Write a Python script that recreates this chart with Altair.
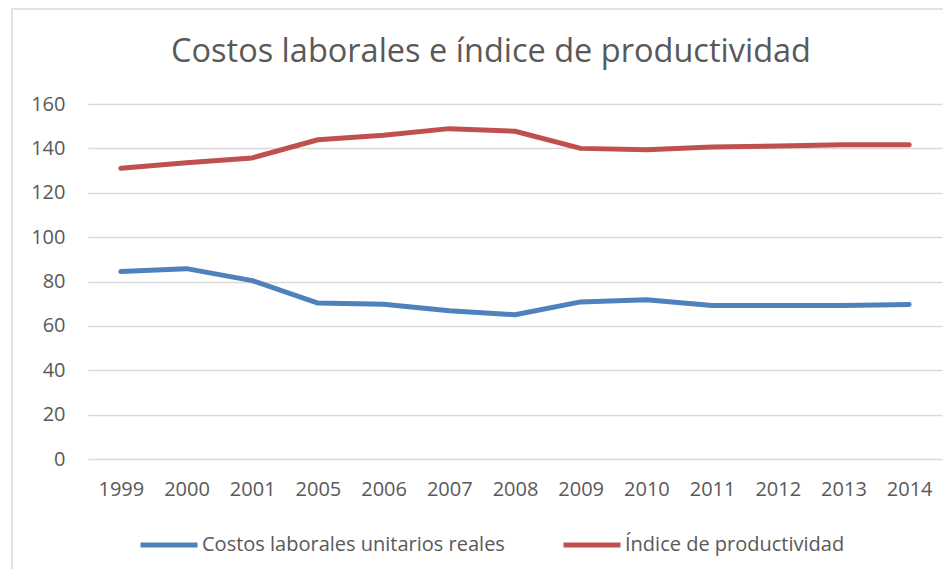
import altair as alt
import pandas as pd

years = ["1999", "2000", "2001", "2005", "2006", "2007", "2008",
         "2009", "2010", "2011", "2012", "2013", "2014"]
costos = [84.5, 85.8, 80.4, 70.3, 69.7, 66.8, 65.0, 70.8, 71.8, 69.2, 69.2, 69.2, 69.6]
productividad = [131.0, 133.5, 135.7, 143.9, 145.9, 148.9, 147.7, 140.0, 139.4, 140.6, 141.1, 141.6, 141.6]
series_names = ["Costos laborales unitarios reales", "Índice de productividad"]
series_colors = ["#4F81BD", "#C0504D"]
title_text = ["Costos laborales e índice de productividad"]

rows = []
for i, y in enumerate(years):
    rows.append({"year": y, "serie": series_names[0], "value": costos[i], "order": i})
    rows.append({"year": y, "serie": series_names[1], "value": productividad[i], "order": i})
df = pd.DataFrame(rows)

FONT = "Open Sans"
GRAY = "#595959"
W, H = 854, 355

lines = alt.Chart(df).mark_line(strokeWidth=5, strokeCap="round", strokeJoin="round").encode(
    x=alt.X("year:N", sort=years, title=None,
            scale=alt.Scale(type="point", padding=0.5),
            axis=alt.Axis(labelAngle=0, ticks=False, domain=False, grid=False,
                          labelFontSize=20, labelFont=FONT, labelColor=GRAY,
                          labelPadding=20)),
    y=alt.Y("value:Q", title=None,
            scale=alt.Scale(domain=[0, 160], nice=False),
            axis=alt.Axis(values=list(range(0, 161, 20)), ticks=False, domain=False,
                          gridColor="#D9D9D9", gridWidth=1.3,
                          labelFontSize=20, labelFont=FONT, labelColor=GRAY,
                          labelPadding=23)),
    color=alt.Color("serie:N", sort=series_names,
                    scale=alt.Scale(domain=series_names, range=series_colors),
                    legend=alt.Legend(title=None, orient="none", direction="horizontal",
                                      legendX=50, legendY=410,
                                      symbolType="stroke", symbolSize=3249,
                                      symbolStrokeWidth=5, labelOffset=2,
                                      columnPadding=48, labelLimit=500,
                                      labelFontSize=20, labelFont=FONT, labelColor=GRAY)),
    detail="serie:N",
    order="order:Q",
)

frame_df = pd.DataFrame({"k": [0]})
frame = alt.Chart(frame_df).mark_rect(fill=None, stroke="#D9D9D9", strokeWidth=1.5, clip=False).encode(
    x=alt.value(-76), x2=alt.value(W + 20),
    y=alt.value(-95), y2=alt.value(H + 140),
)

title_df = pd.DataFrame({"t": title_text})
title = alt.Chart(title_df).mark_text(font=FONT, fontSize=32.5, color=GRAY,
                                      align="center", baseline="alphabetic").encode(
    text="t:N", x=alt.value(W / 2 - 24), y=alt.value(-42),
)

chart = alt.layer(frame, title, lines).properties(
    width=W, height=H,
    autosize=alt.AutoSizeParams(type="none"),
    padding={"left": 80, "top": 96, "right": 1, "bottom": 110},
).configure_view(stroke=None)

chart.save("out.html", embed_options={"renderer": "svg", "actions": False})
